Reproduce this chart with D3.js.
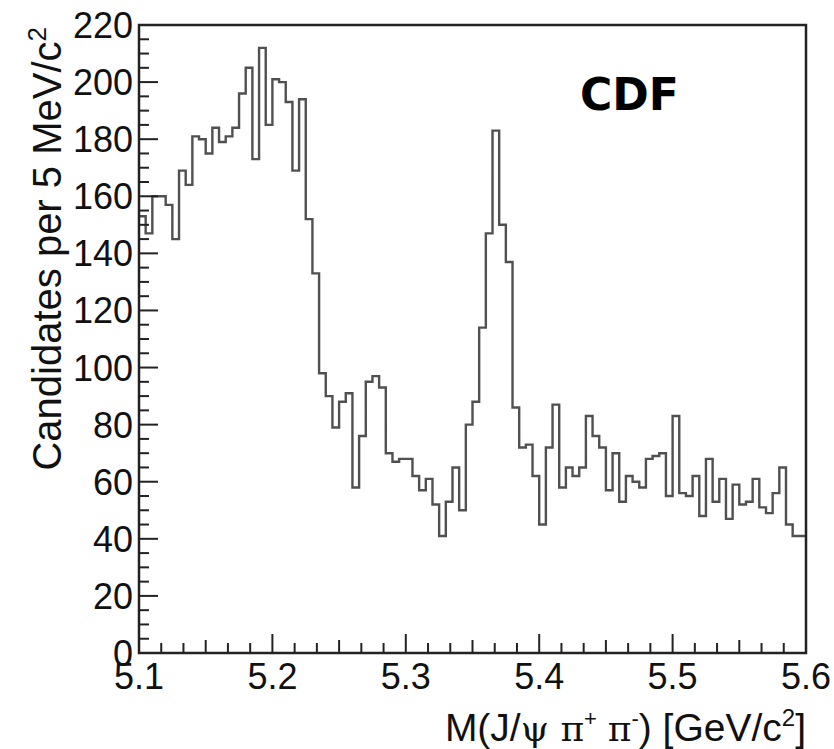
<!DOCTYPE html>
<html><head><meta charset="utf-8">
<script src="https://cdn.jsdelivr.net/npm/d3@7"></script>
<style>html,body{margin:0;padding:0;background:#fff;}svg{display:block;}</style>
</head><body>
<script>
// ---- data ----
const binStart = 5.1;
const binWidth = 0.005;
const counts = [153,147,160,160,157,145,169,164,181,180,
                175,184,179,181,184,196,205,173,212,185,
                201,200,193,169,194,152,133,98,90,79,
                88,91,58,76,95,97,93,70,67,68,
                68,62,57,61,52,41,53,65,50,80,
                88,114,147,183,150,137,86,72,73,62,
                45,72,87,58,65,62,65,83,76,72,
                57,70,53,62,60,58,68,69,70,55,
                83,56,55,62,48,68,53,61,47,59,
                52,53,61,51,49,56,65,45,41,41];
const xTickLabels = ["5.1","5.2","5.3","5.4","5.5","5.6"];
const xTickValues = [5.1,5.2,5.3,5.4,5.5,5.6];
const yTickValues = [0,20,40,60,80,100,120,140,160,180,200,220];
const yTitle = "Candidates per 5 MeV/c";
const experiment = "CDF";

// ---- layout ----
const W = 834, H = 749;
const L = 139, R = 806, T = 25, B = 653;
const svg = d3.select("body").append("svg").attr("width", W).attr("height", H);
const x = d3.scaleLinear().domain([5.1, 5.6]).range([L, R]);
const y = d3.scaleLinear().domain([0, 220]).range([B, T]);
const font = "'Liberation Sans', Arial, Helvetica, sans-serif";

// histogram outline
const pts = counts.map((v, i) => [binStart + i * binWidth, v]);
pts.push([binStart + counts.length * binWidth, counts[counts.length - 1]]);
const line = d3.line().x(d => x(d[0])).y(d => y(d[1])).curve(d3.curveStepAfter);
svg.append("path").attr("d", line(pts)).attr("fill", "none")
   .attr("stroke", "#505050").attr("stroke-width", 2.4);

// frame
svg.append("rect").attr("x", L).attr("y", T).attr("width", R - L).attr("height", B - T)
   .attr("fill", "none").attr("stroke", "#222").attr("stroke-width", 2.5);

// y ticks
const yMinor = d3.range(0, 221, 5);
svg.append("g").selectAll("line").data(yMinor).join("line")
   .attr("x1", L).attr("x2", d => L + (d % 20 === 0 ? 19 : 10))
   .attr("y1", d => y(d)).attr("y2", d => y(d))
   .attr("stroke", "#222").attr("stroke-width", 2);
svg.append("g").selectAll("text").data(yTickValues).join("text")
   .attr("x", L - 6).attr("y", d => y(d)).attr("dy", "0.36em")
   .attr("text-anchor", "end").attr("font-family", font).attr("font-size", 36)
   .attr("fill", "#111").text(d => d);

// x ticks
const xMinor = d3.range(0, 31).map(k => 5.1 + k / 60);
svg.append("g").selectAll("line").data(xMinor).join("line")
   .attr("x1", d => x(d)).attr("x2", d => x(d))
   .attr("y1", B).attr("y2", (d, i) => B - (i % 6 === 0 ? 19 : (i % 3 === 0 ? 13 : 10)))
   .attr("stroke", "#222").attr("stroke-width", 2);
svg.append("g").selectAll("text").data(xTickValues).join("text")
   .attr("x", d => x(d)).attr("y", 689)
   .attr("text-anchor", "middle").attr("font-family", font).attr("font-size", 36)
   .attr("fill", "#111").text((d, i) => xTickLabels[i]);

// y title
const yt = svg.append("text")
   .attr("transform", `translate(61,${T + 2}) rotate(-90)`)
   .attr("text-anchor", "end").attr("font-family", font).attr("font-size", 40).attr("fill", "#111");
yt.append("tspan").text(yTitle);
yt.append("tspan").attr("font-size", 26).attr("dy", -15).text("2");

// x title
const xt = svg.append("text").attr("x", R).attr("y", 741)
   .attr("text-anchor", "end").attr("font-family", font).attr("font-size", 39).attr("fill", "#111");
xt.append("tspan").text("M(J/");
xt.append("tspan").attr("font-family", "'DejaVu Serif', serif").attr("font-size", 36).text("ψ ");
xt.append("tspan").attr("font-family", "'DejaVu Serif', serif").attr("font-size", 36).text("π");
xt.append("tspan").attr("font-size", 22).attr("dy", -15).text("+");
xt.append("tspan").attr("dy", 15).text(" ");
xt.append("tspan").attr("font-family", "'DejaVu Serif', serif").attr("font-size", 36).text("π");
xt.append("tspan").attr("font-size", 22).attr("dy", -15).text("-");
xt.append("tspan").attr("dy", 15).text(") [GeV/c");
xt.append("tspan").attr("font-size", 24).attr("dy", -15).text("2");
xt.append("tspan").attr("dy", 15).text("]");

// experiment label
svg.append("text").attr("x", 580).attr("y", 110)
   .attr("font-family", "'DejaVu Sans', Verdana, sans-serif").attr("font-weight", "bold").attr("font-size", 44)
   .attr("fill", "#000").text(experiment);
</script>
</body></html>
